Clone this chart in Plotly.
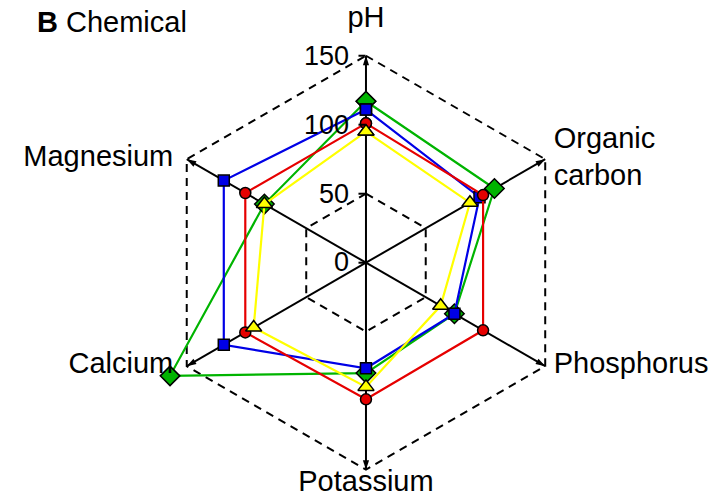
import plotly.graph_objects as go

# soil chemical properties, relative values
categories = ["pH", "Organic<br>carbon", "Phosphorus", "Potassium", "Calcium", "Magnesium"]

red_vals = [101, 98, 98, 99, 101, 101]
blue_vals = [111, 95, 74, 76.5, 119, 119]
green_vals = [117, 107.5, 74, 80, 164, 85]
yellow_vals = [95, 87, 62.5, 90, 94, 85]

grid_levels = [50, 150]
radial_ticks = [0, 50, 100, 150]
axis_max = 150

FONT = "Liberation Sans, Arial, sans-serif"

fig = go.Figure()

# dashed hexagon grid
for lvl in grid_levels:
    fig.add_trace(go.Scatterpolar(
        r=[lvl] * (len(categories) + 1), theta=categories + categories[:1],
        mode="lines", line=dict(color="black", width=2, dash="8px,6px"),
        hoverinfo="skip", cliponaxis=False))

# axis spokes
for c in categories:
    fig.add_trace(go.Scatterpolar(
        r=[0, axis_max], theta=[c, c], mode="lines",
        line=dict(color="black", width=2),
        hoverinfo="skip", cliponaxis=False))

# arrow heads at the spoke ends (clockwise from the top)
fig.add_trace(go.Scatterpolar(
    r=[axis_max] * len(categories), theta=categories, mode="markers",
    marker=dict(symbol="arrow", size=10, color="black",
                angle=[60 * i for i in range(len(categories))]),
    hoverinfo="skip", cliponaxis=False))

series = [
    (green_vals, "#00b400", "diamond", 15),
    (blue_vals, "#0000e6", "square", 11),
    (red_vals, "#e60000", "circle", 11),
    (yellow_vals, "#ffff00", "triangle-up", 14),
]
for vals, col, sym, sz in series:
    fig.add_trace(go.Scatterpolar(
        r=vals + vals[:1], theta=categories + categories[:1],
        mode="lines+markers", line=dict(color=col, width=2.2),
        marker=dict(symbol=sym, size=sz, color=col, line=dict(color="black", width=1.5)),
        cliponaxis=False))

# axis names at the end of each spoke
fig.add_trace(go.Scatterpolar(
    r=[axis_max] * len(categories), theta=categories, mode="markers+text",
    text=categories,
    textposition=["top center", "middle right", "middle right", "bottom center", "middle left", "middle left"],
    marker=dict(size=[32, 12, 12, 0, 20, 20], opacity=0),
    textfont=dict(size=29), hoverinfo="skip", cliponaxis=False))

fig.update_layout(
    width=721, height=496,
    margin=dict(l=0, r=0, t=0, b=0),
    paper_bgcolor="white",
    showlegend=False,
    font=dict(family=FONT, size=27, color="black"),
    polar=dict(
        domain=dict(x=[0.1861, 0.8291], y=[0.003, 0.9377]),
        bgcolor="rgba(0,0,0,0)",
        gridshape="circular",
        angularaxis=dict(
            direction="clockwise", rotation=90,
            categoryorder="array", categoryarray=categories,
            showgrid=False, showline=False, showticklabels=False, ticks="",
        ),
        radialaxis=dict(
            range=[0, 168], angle=90, side="counterclockwise",
            tickvals=radial_ticks, tickangle=90,
            showgrid=False, showline=False,
            ticks="outside", ticklen=7, tickcolor="black", tickwidth=1.5,
            tickfont=dict(size=27),
        ),
    ),
    annotations=[dict(
        x=0.048, y=0.956, xref="paper", yref="paper", xanchor="left", yanchor="middle",
        text="<b>B</b> Chemical", showarrow=False, font=dict(size=29))],
)

fig.write_html("out.html", config={"displayModeBar": False},
               post_script="document.body.style.margin='0';")
